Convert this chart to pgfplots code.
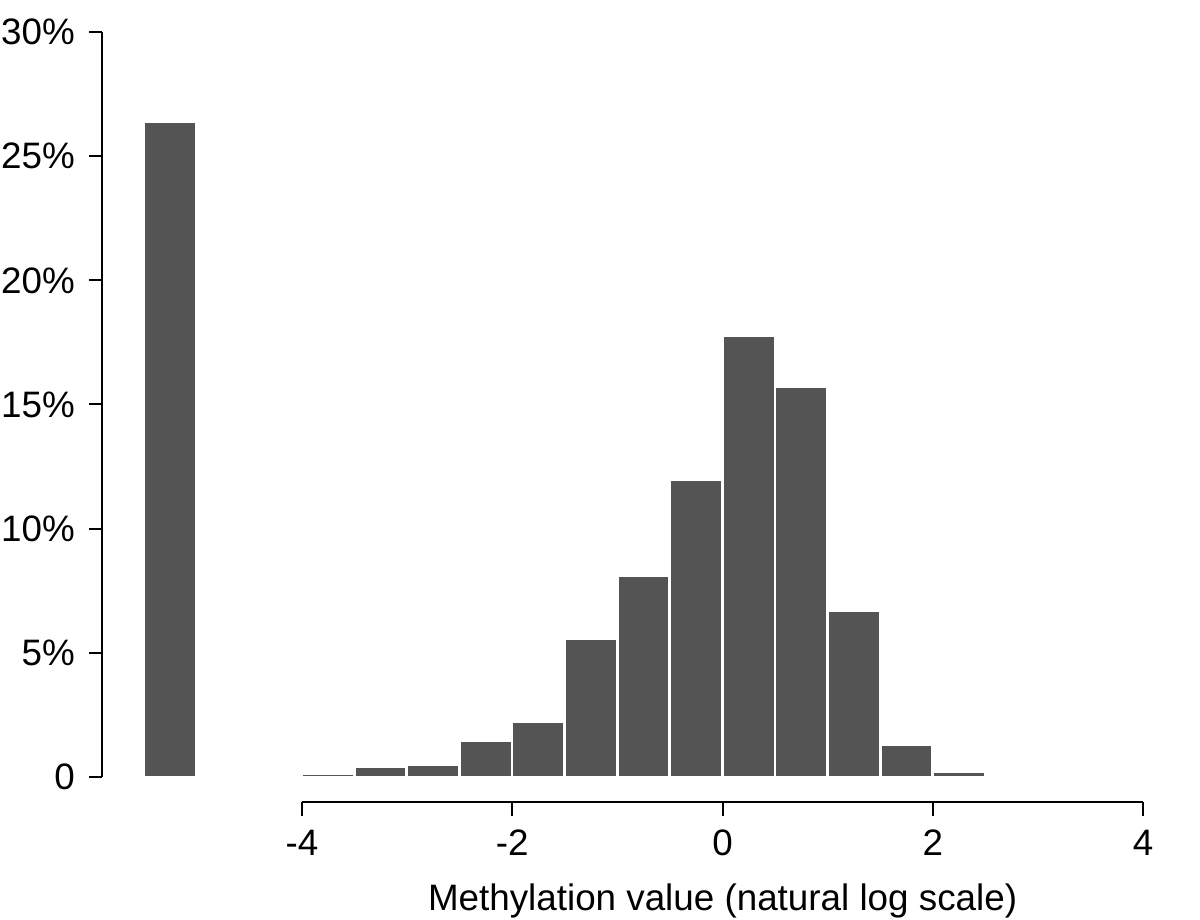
\documentclass[border=0pt]{standalone}
\usepackage{fontspec}
\setmainfont{Liberation Sans}
\usepackage{pgfplots}
\pgfplotsset{compat=1.18}
\definecolor{barfill}{RGB}{84,84,84}
\begin{document}
\begin{tikzpicture}
% bars and the percentage axis
\begin{axis}[
  at={(25.5pt,35.75pt)}, anchor=south west,
  scale only axis,
  width=260.3pt, height=186.25pt,
  xmin=-5.898, xmax=4,
  ymin=0, ymax=30,
  axis x line=none,
  axis y line=left,
  axis line style={-, line width=0.5pt, black},
  every tick/.style={black, line width=0.5pt},
  tick align=outside,
  major tick length=3.25pt,
  ytick={0,5,10,15,20,25,30},
  yticklabels={0,5\%,10\%,15\%,20\%,25\%,30\%},
  every tick label/.append style={font=\fontsize{9.2}{11}\selectfont},
  clip=false,
]
\addplot[ybar interval, fill=barfill, draw=white, line width=0.7pt]
  coordinates {(-5.5,26.38) (-5.0,26.38)};
\addplot[ybar interval, fill=barfill, draw=white, line width=0.7pt]
  coordinates {
  (-4.0,0.14) (-3.5,0.41) (-3.0,0.48) (-2.5,1.46) (-2.0,2.25)
  (-1.5,5.58) (-1.0,8.13) (-0.5,11.98) (0.0,17.79) (0.5,15.74)
  (1.0,6.72) (1.5,1.29) (2.0,0.21) (2.5,0.21)
  };
\end{axis}
% separate value axis below the bars
\begin{axis}[
  at={(75.5pt,29.5pt)}, anchor=south west,
  scale only axis,
  width=210.3pt, height=10pt,
  xmin=-4, xmax=4, ymin=0, ymax=1,
  axis x line=bottom,
  axis y line=none,
  axis line style={-, line width=0.5pt, black},
  every tick/.style={black, line width=0.5pt},
  tick align=outside,
  major tick length=3.5pt,
  xtick={-4,-2,0,2,4},
  xticklabels={-4,-2,0,2,4},
  every tick label/.append style={font=\fontsize{9.2}{11}\selectfont},
  xlabel={Methylation value (natural log scale)},
  xlabel style={font=\fontsize{9.2}{11}\selectfont},
]
\end{axis}
\pgfresetboundingbox
\path[use as bounding box] (0,0) rectangle (300pt,230pt);
\end{tikzpicture}
\end{document}
